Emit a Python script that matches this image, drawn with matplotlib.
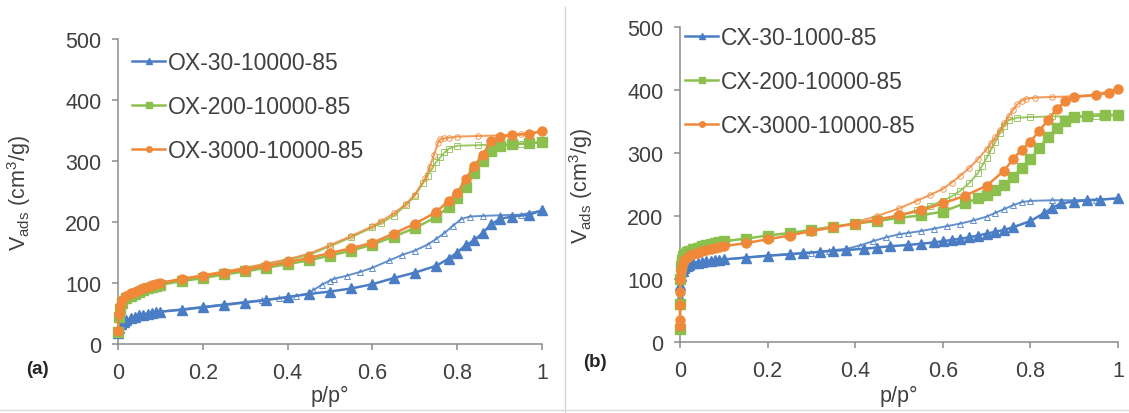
import matplotlib
matplotlib.use("Agg")
import matplotlib.pyplot as plt
from matplotlib.lines import Line2D

plt.rcParams["font.family"] = ["Liberation Sans", "DejaVu Sans"]

# ---------------------------------------------------------------------------
# N2 isotherms at 77 K, adsorption (filled) and desorption (open) branches
# ---------------------------------------------------------------------------

# (a) OX series
ox30_ads_p = [0.0, 0.003, 0.008, 0.013, 0.02, 0.03, 0.04, 0.05, 0.06, 0.07, 0.08, 0.09, 0.1,
              0.15, 0.2, 0.25, 0.3, 0.35, 0.4, 0.45, 0.5, 0.55, 0.6, 0.65, 0.7, 0.75, 0.78,
              0.8, 0.82, 0.84, 0.86, 0.88, 0.9, 0.93, 0.97, 1.0]
ox30_ads_v = [18, 26, 32, 36, 39, 42, 45, 47, 48, 50, 51, 52, 53,
              56, 60, 64, 68, 72, 77, 82, 86, 91, 98, 108, 117, 128, 140,
              150, 162, 170, 182, 196, 205, 209, 212, 219]
ox30_des_p = [1.0, 0.95, 0.9, 0.86, 0.83, 0.81, 0.79, 0.77, 0.75, 0.73, 0.7, 0.67, 0.64,
              0.6, 0.57, 0.54, 0.51, 0.5, 0.48, 0.46, 0.45, 0.42, 0.38, 0.34, 0.3, 0.25,
              0.2, 0.15, 0.1, 0.06]
ox30_des_v = [219, 212, 211, 210, 209, 205, 194, 182, 172, 163, 153, 146, 137,
              125, 118, 112, 107, 104, 97, 88, 83, 79, 75, 72, 69, 65,
              61, 57, 53, 49]

ox200_ads_p = [0.0, 0.002, 0.005, 0.01, 0.02, 0.03, 0.04, 0.05, 0.06, 0.07, 0.08, 0.09, 0.1,
               0.15, 0.2, 0.25, 0.3, 0.35, 0.4, 0.45, 0.5, 0.55, 0.6, 0.65, 0.7, 0.75, 0.78,
               0.8, 0.82, 0.84, 0.86, 0.88, 0.9, 0.93, 0.97, 1.0]
ox200_ads_v = [20, 45, 58, 68, 75, 79, 82, 85, 88, 91, 93, 95, 97,
               103, 108, 114, 119, 125, 131, 137, 145, 153, 163, 176, 190, 208, 225,
               240, 258, 280, 300, 316, 325, 328, 329, 331]
ox200_des_p = [1.0, 0.95, 0.9, 0.85, 0.8, 0.78, 0.77, 0.76, 0.75, 0.74, 0.73, 0.72, 0.7,
               0.68, 0.65, 0.62, 0.6, 0.55, 0.5, 0.45, 0.4, 0.35, 0.3, 0.25, 0.2, 0.15,
               0.1, 0.06]
ox200_des_v = [331, 328, 327, 326, 325, 320, 314, 306, 298, 288, 276, 264, 243,
               228, 210, 198, 191, 175, 160, 146, 137, 130, 123, 117, 111, 105,
               99, 90]

ox3000_ads_p = ox200_ads_p
ox3000_ads_v = [22, 50, 62, 72, 79, 83, 86, 89, 92, 94, 96, 98, 100,
                106, 112, 117, 122, 128, 134, 141, 149, 157, 166, 181, 197, 216, 235,
                248, 270, 292, 310, 333, 339, 343, 344, 349]
ox3000_des_p = [1.0, 0.95, 0.9, 0.85, 0.8, 0.78, 0.77, 0.76, 0.755, 0.745, 0.735, 0.725, 0.7,
                0.68, 0.65, 0.62, 0.6, 0.55, 0.5, 0.45, 0.4, 0.35, 0.3, 0.25, 0.2, 0.15,
                0.1, 0.06]
ox3000_des_v = [349, 344, 342, 341, 340, 338, 337, 336, 330, 310, 290, 272, 245,
               230, 214, 201, 193, 177, 162, 148, 139, 132, 125, 119, 113, 107,
               101, 92]

# (b) CX series
cx30_ads_p = [0.0, 0.001, 0.003, 0.006, 0.01, 0.015, 0.02, 0.03, 0.04, 0.05, 0.06, 0.07,
              0.08, 0.09, 0.1, 0.15, 0.2, 0.25, 0.28, 0.32, 0.35, 0.38, 0.42, 0.45, 0.48,
              0.52, 0.55, 0.58, 0.6, 0.62, 0.64, 0.66, 0.68, 0.7, 0.72, 0.74, 0.76, 0.8,
              0.83, 0.85, 0.87, 0.9, 0.93, 0.96, 1.0]
cx30_ads_v = [70, 90, 105, 113, 118, 121, 123, 125, 126, 127, 128, 129,
              130, 130, 131, 134, 137, 139, 141, 143, 145, 146, 148, 150, 152,
              154, 156, 158, 160, 162, 164, 166, 169, 172, 175, 178, 182, 192,
              204, 213, 220, 223, 225, 226, 228]
cx30_des_p = [1.0, 0.95, 0.9, 0.85, 0.8, 0.78, 0.76, 0.74, 0.72, 0.7, 0.67, 0.64, 0.61,
              0.58, 0.55, 0.52, 0.5, 0.47, 0.44, 0.41, 0.38, 0.34, 0.3, 0.25, 0.2, 0.15,
              0.1, 0.05]
cx30_des_v = [228, 226, 225, 225, 224, 222, 217, 211, 205, 199, 193, 188, 184,
              180, 176, 173, 171, 166, 160, 153, 148, 145, 142, 140, 137, 134,
              131, 127]

cx200_ads_p = [0.0, 0.0005, 0.001, 0.002, 0.004, 0.007, 0.01, 0.015, 0.02, 0.03, 0.04,
               0.05, 0.06, 0.07, 0.08, 0.09, 0.1, 0.15, 0.2, 0.25, 0.3, 0.35, 0.4, 0.45,
               0.5, 0.55, 0.6, 0.65, 0.68, 0.7, 0.72, 0.74, 0.76, 0.78, 0.8, 0.82, 0.84,
               0.86, 0.88, 0.9, 0.93, 0.97, 1.0]
cx200_ads_v = [20, 60, 100, 120, 130, 136, 140, 143, 145, 148, 150,
               152, 154, 155, 157, 158, 160, 164, 169, 173, 178, 183, 188, 192,
               197, 201, 207, 220, 228, 234, 241, 249, 262, 276, 290, 308, 325,
               340, 351, 357, 359, 360, 360]
cx200_des_p = [1.0, 0.95, 0.9, 0.85, 0.8, 0.77, 0.75, 0.74, 0.73, 0.72, 0.71, 0.7, 0.69,
               0.68, 0.66, 0.64, 0.62, 0.6, 0.57, 0.54, 0.5, 0.45, 0.4]
cx200_des_v = [360, 359, 358, 358, 357, 356, 352, 343, 332, 318, 305, 292, 280,
               268, 252, 240, 231, 224, 216, 209, 201, 194, 188]

cx3000_ads_p = [0.0, 0.0, 0.0, 0.0005, 0.001, 0.002, 0.004, 0.007, 0.01, 0.015, 0.02,
                0.03, 0.04, 0.05, 0.06, 0.07, 0.08, 0.09, 0.1, 0.15, 0.2, 0.25, 0.3,
                0.35, 0.4, 0.45, 0.5, 0.55, 0.6, 0.65, 0.7, 0.74, 0.76, 0.78, 0.8,
                0.82, 0.84, 0.86, 0.88, 0.9, 0.95, 0.98, 1.0]
cx3000_ads_v = [25, 35, 58, 80, 100, 112, 120, 126, 130, 134, 137,
                140, 142, 144, 146, 148, 150, 151, 152, 157, 163, 169, 176,
                182, 188, 194, 201, 209, 220, 232, 248, 272, 290, 305, 318,
                335, 352, 370, 382, 389, 392, 396, 402]
cx3000_des_p = [1.0, 0.95, 0.9, 0.85, 0.81, 0.79, 0.78, 0.77, 0.76, 0.75, 0.74, 0.73,
                0.72, 0.71, 0.7, 0.68, 0.66, 0.64, 0.62, 0.6, 0.57, 0.54, 0.5, 0.45, 0.4]
cx3000_des_v = [402, 393, 390, 389, 388, 386, 383, 377, 368, 358, 347, 336,
                325, 316, 306, 290, 276, 264, 253, 243, 233, 224, 212, 200, 190]

labels_a = ["OX-30-10000-85", "OX-200-10000-85", "OX-3000-10000-85"]
labels_b = ["CX-30-1000-85", "CX-200-10000-85", "CX-3000-10000-85"]
x_ticks = [0, 0.2, 0.4, 0.6, 0.8, 1.0]
x_ticklabels = ["0", "0.2", "0.4", "0.6", "0.8", "1"]
y_ticks = [0, 100, 200, 300, 400, 500]

COLORS = ["#4a7dc4", "#8cc04e", "#f0883a"]
MARKERS = ["^", "s", "o"]
AXIS_GREY = "#8c8c8c"
TEXT = "#404040"


def draw_panel(ax, series, labels, leg_anchor, ylab_x):
    for (ap, av, dp, dv), col, mk in zip(series, COLORS, MARKERS):
        ax.plot(dp, dv, color=col, lw=1.4, marker=mk, ms=4, mfc="none",
                mec=col, mew=0.7, alpha=0.85, clip_on=False, zorder=3)
        ax.plot(ap, av, color=col, lw=1.8, marker=mk, ms=6.5, mec=col,
                clip_on=False, zorder=4)

    handles = [Line2D([], [], color=c, lw=1.8, marker=m, ms=4)
               for c, m in zip(COLORS, MARKERS)]
    ax.legend(handles, labels, loc="upper left", bbox_to_anchor=leg_anchor,
              frameon=False, fontsize=16.5, handlelength=1.45, handletextpad=0.1,
              labelspacing=0.92, borderpad=0, borderaxespad=0, labelcolor=TEXT)

    ax.set_xlim(0, 1)
    ax.set_ylim(0, 500)
    ax.set_xticks(x_ticks)
    ax.set_xticklabels(x_ticklabels)
    ax.set_yticks(y_ticks)
    for side in ("top", "right"):
        ax.spines[side].set_visible(False)
    for side in ("left", "bottom"):
        ax.spines[side].set_color(AXIS_GREY)
        ax.spines[side].set_linewidth(1.1)
    ax.tick_params(axis="both", colors=AXIS_GREY, labelcolor=TEXT,
                   labelsize=15.5, length=4, width=1.1)
    ax.tick_params(axis="x", pad=9)
    ax.tick_params(axis="y", pad=8)

    ax.set_xlabel("p/p\u00b0", fontsize=15.5, color=TEXT)
    ax.set_ylabel(r"V$_\mathregular{ads}$ (cm$^\mathregular{3}$/g)", fontsize=15.5, color=TEXT)
    ax.xaxis.set_label_coords(0.5, -0.135)
    ax.yaxis.set_label_coords(ylab_x, 0.5)


fig = plt.figure(figsize=(11.29, 4.14), dpi=100)

ax_a = fig.add_axes([118 / 1129, 69 / 414, 424 / 1129, 305 / 414])
draw_panel(ax_a,
           [(ox30_ads_p, ox30_ads_v, ox30_des_p, ox30_des_v),
            (ox200_ads_p, ox200_ads_v, ox200_des_p, ox200_des_v),
            (ox3000_ads_p, ox3000_ads_v, ox3000_des_p, ox3000_des_v)],
           labels_a, (0.033, 0.961), -0.2)

ax_b = fig.add_axes([680 / 1129, 71 / 414, 438 / 1129, 315 / 414])
draw_panel(ax_b,
           [(cx30_ads_p, cx30_ads_v, cx30_des_p, cx30_des_v),
            (cx200_ads_p, cx200_ads_v, cx200_des_p, cx200_des_v),
            (cx3000_ads_p, cx3000_ads_v, cx3000_des_p, cx3000_des_v)],
           labels_b, (0.012, 1.003), -0.195)

fig.text(37 / 1129, 1 - 370 / 414, "(a)", fontsize=13.5, fontweight="bold",
         color="#262626", ha="center", va="center")
fig.text(595 / 1129, 1 - 363 / 414, "(b)", fontsize=13.5, fontweight="bold",
         color="#262626", ha="center", va="center")

# thin frame lines separating the two panels
fig.add_artist(Line2D([565 / 1129, 565 / 1129], [0.0, 1 - 8 / 414],
                      transform=fig.transFigure, color="#d4d4d4", lw=1.0))
fig.add_artist(Line2D([0.0, 1.0], [1 - 411 / 414, 1 - 411 / 414],
                      transform=fig.transFigure, color="#dcdcdc", lw=1.0))

fig.savefig("out.png", dpi=100, facecolor="white")
